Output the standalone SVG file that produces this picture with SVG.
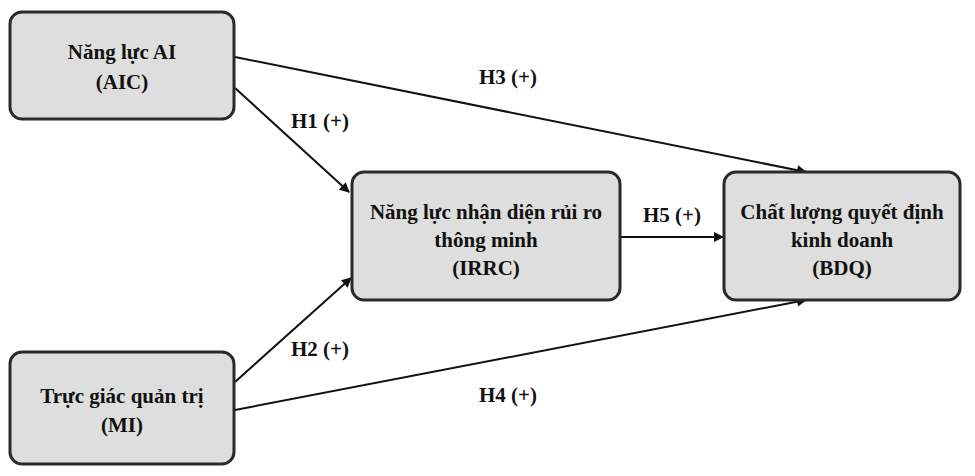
<svg xmlns="http://www.w3.org/2000/svg" width="975" height="476" viewBox="0 0 975 476">
<style>
.box{fill:#dedede;stroke:#2a2a2a;stroke-width:3}
text{font-family:"Liberation Serif",serif;font-weight:bold;font-size:21px;fill:#111;text-anchor:middle}
.c{stroke:#111;stroke-width:2;fill:none;marker-end:url(#a)}
</style>
<defs><marker id="a" viewBox="0 0 10 10" refX="9" refY="5" markerWidth="12" markerHeight="10" orient="auto" markerUnits="userSpaceOnUse"><path d="M0,0L10,5L0,10z" fill="#111"/></marker></defs>
<rect width="975" height="476" fill="#fff"/>
<g id="connectors">
<path class="c" d="M235,88L349,192"/>
<path class="c" d="M235,57L806,172"/>
<path class="c" d="M235,382L351,278"/>
<path class="c" d="M235,410L806,300"/>
<path class="c" d="M620,237L723,237"/>
<text x="320" y="128">H1 (+)</text>
<text x="508" y="84">H3 (+)</text>
<text x="320" y="356">H2 (+)</text>
<text x="508" y="402">H4 (+)</text>
<text x="672" y="222">H5 (+)</text>
</g>
<g id="AIC"><rect class="box" x="10" y="12" width="224" height="107" rx="12"/><text x="122" y="59">Năng lực AI</text><text x="122" y="89">(AIC)</text></g>
<g id="IRRC"><rect class="box" x="352" y="172" width="268" height="128" rx="12"/><text x="486" y="219">Năng lực nhận diện rủi ro</text><text x="486" y="247">thông minh</text><text x="486" y="275">(IRRC)</text></g>
<g id="BDQ"><rect class="box" x="724" y="172" width="236" height="128" rx="12"/><text x="842" y="219">Chất lượng quyết định</text><text x="842" y="247">kinh doanh</text><text x="842" y="275">(BDQ)</text></g>
<g id="MI"><rect class="box" x="10" y="352" width="224" height="112" rx="12"/><text x="122" y="403">Trực giác quản trị</text><text x="122" y="432">(MI)</text></g>
</svg>
